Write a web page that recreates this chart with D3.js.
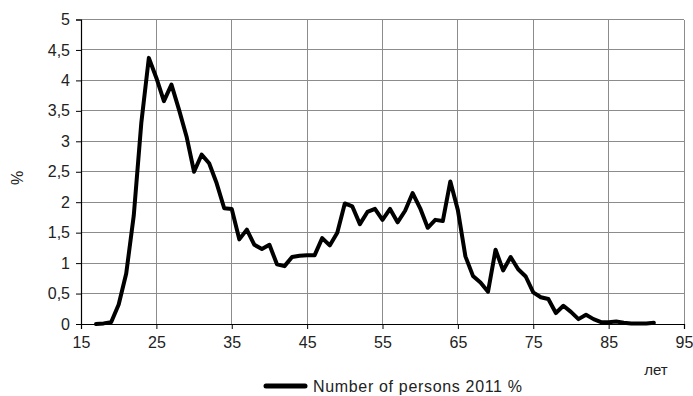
<!DOCTYPE html>
<html><head><meta charset="utf-8">
<script src="https://cdn.jsdelivr.net/npm/d3@7"></script>
<style>body{margin:0;background:#fff}svg{display:block}text{font-family:"Liberation Sans",Arial,sans-serif;fill:#222}</style>
</head><body><svg id="c" width="693" height="396"></svg>
<script>
const ages = d3.range(17, 92);
const values = [0.00,0.01,0.03,0.32,0.83,1.78,3.30,4.37,4.04,3.66,3.93,3.52,3.08,2.50,2.78,2.64,2.31,1.90,1.89,
1.39,1.55,1.30,1.23,1.30,0.98,0.95,1.10,1.12,1.13,1.13,1.41,1.29,1.50,1.98,1.93,1.64,1.84,1.89,1.71,1.89,1.67,1.86,2.15,1.90,1.58,1.71,1.69,2.34,1.87,
1.11,0.79,0.68,0.53,1.22,0.88,1.10,0.90,0.78,0.52,0.44,0.41,0.18,0.30,0.20,0.08,0.15,0.08,0.03,0.03,0.04,0.02,0.01,0.01,0.01,0.02];
const xTicks = [15,25,35,45,55,65,75,85,95];
const yTicks = [0,0.5,1,1.5,2,2.5,3,3.5,4,4.5,5];
const seriesName = "Number of persons 2011 %";
const xTitle = "лет", yTitle = "%";

const svg = d3.select("#c");
const L = 81, R = 684, T = 19.5, B = 324;
const x = d3.scaleLinear().domain([15,95]).range([L,R]);
const y = d3.scaleLinear().domain([0,5]).range([B,T]);
const fmt = d => String(d).replace(".", ",");

// grid
svg.append("g").selectAll("line").data(yTicks.slice(1)).join("line")
  .attr("x1",L).attr("x2",R).attr("y1",d=>y(d)).attr("y2",d=>y(d))
  .attr("stroke","#8c8c8c").attr("stroke-width",1).attr("shape-rendering","crispEdges");
svg.append("g").selectAll("line").data(xTicks.slice(1)).join("line")
  .attr("y1",T).attr("y2",B).attr("x1",d=>x(d)).attr("x2",d=>x(d))
  .attr("stroke","#8c8c8c").attr("stroke-width",1).attr("shape-rendering","crispEdges");

// axes
const ya = svg.append("g").attr("transform",`translate(${L},0)`)
  .call(d3.axisLeft(y).tickValues(yTicks).tickFormat(fmt).tickSize(5).tickPadding(6));
const xa = svg.append("g").attr("transform",`translate(0,${B})`)
  .call(d3.axisBottom(x).tickValues(xTicks).tickSize(5).tickPadding(8));
[ya,xa].forEach(a=>{
  a.select(".domain").attr("stroke","#000").attr("stroke-width",1.2);
  a.selectAll(".tick line").attr("stroke","#000");
  a.selectAll("text").style("font-size","16px").attr("fill","#222");
});

// line
svg.append("path").datum(ages.map((a,i)=>[a,values[i]]))
  .attr("fill","none").attr("stroke","#000").attr("stroke-width",4).attr("stroke-linejoin","round").attr("stroke-linecap","round")
  .attr("d", d3.line().x(d=>x(d[0])).y(d=>y(d[1])));

// titles
svg.append("text").attr("transform","translate(23,178) rotate(-90)").attr("text-anchor","middle")
  .style("font-size","16px").text(yTitle);
svg.append("text").attr("x",656).attr("y",375).attr("text-anchor","middle").style("font-size","15px").text(xTitle);

// legend
svg.append("line").attr("x1",266).attr("x2",305).attr("y1",386).attr("y2",386)
  .attr("stroke","#000").attr("stroke-width",5).attr("stroke-linecap","round");
svg.append("text").attr("x",313).attr("y",392).style("font-size","16px").attr("textLength",209).text(seriesName);
</script></body></html>
